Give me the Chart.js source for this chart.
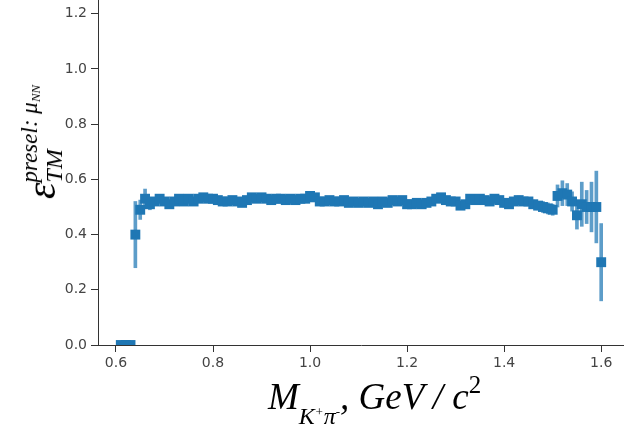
<!DOCTYPE html>
<html>
<head>
<meta charset="utf-8">
<script src="https://cdn.jsdelivr.net/npm/chart.js@4.4.1/dist/chart.umd.min.js"></script>
<style>
    body { margin: 0; background: #fff; }
    .wrap { position: relative; width: 624px; height: 427px; overflow: hidden; }
    canvas { position: absolute; left: 0; top: 0; }
    .mathTitle {
        position: absolute;
        font-family: "Liberation Serif", "DejaVu Serif", serif;
        font-style: italic;
        color: #000;
        white-space: nowrap;
        line-height: 1;
    }
    #xTitle { left: 268px; top: 372px; font-size: 37px; }
    #xTitle .lo { font-size: 24px; position: relative; top: 15px; }
    #xTitle .lo sup { font-size: 13px; vertical-align: 8px; }
    #xTitle .hi { font-size: 25px; vertical-align: 16px; font-style: normal; }
    #yTitle { left: 42px; top: 142px; font-size: 42px; transform: translate(-50%, -50%) rotate(-90deg); }
    #yTitle .stack { display: inline-block; vertical-align: -7px; margin-left: 0px; }
    #yTitle .stack span { display: block; }
    #yTitle .up { font-size: 23px; }
    #yTitle .up sub { font-size: 13px; vertical-align: -3px; }
    #yTitle .dn { font-size: 24px; }
</style>
</head>
<body>
<div class="wrap">
    <canvas id="effChart" width="624" height="427"></canvas>
    <div class="mathTitle" id="yTitle">ε<span class="stack"><span class="up">presel: μ<sub>NN</sub></span><span class="dn">TM</span></span></div>
    <div class="mathTitle" id="xTitle">M<span class="lo">K<sup>+</sup>π<sup>-</sup></span>, GeV / c<span class="hi">2</span></div>
</div>
<script>
// Bin layout of the mass histogram (GeV/c^2)
const binStart = 0.605;
const binWidth = 0.01;

// Efficiency per mass bin
const efficiency = [
    0, 0, 0, 0.40, 0.49, 0.53, 0.51, 0.52, 0.53, 0.52,
    0.51, 0.52, 0.53, 0.52, 0.53, 0.52, 0.53, 0.535, 0.53, 0.53,
    0.525, 0.52, 0.52, 0.525, 0.52, 0.515, 0.525, 0.535, 0.53, 0.535,
    0.53, 0.525, 0.53, 0.53, 0.525, 0.53, 0.525, 0.53, 0.53, 0.54,
    0.535, 0.52, 0.52, 0.525, 0.52, 0.52, 0.525, 0.515, 0.52, 0.515,
    0.52, 0.515, 0.52, 0.51, 0.52, 0.515, 0.525, 0.52, 0.525, 0.51,
    0.51, 0.515, 0.51, 0.515, 0.52, 0.53, 0.535, 0.525, 0.52, 0.52,
    0.505, 0.51, 0.53, 0.525, 0.53, 0.525, 0.52, 0.53, 0.525, 0.515,
    0.51, 0.52, 0.525, 0.52, 0.52, 0.51, 0.505, 0.50, 0.495, 0.49,
    0.54, 0.55, 0.545, 0.52, 0.47, 0.51, 0.50, 0.50, 0.50, 0.30
];

// Statistical uncertainty per bin
const efficiencyErr = [
    0, 0, 0, 0.12, 0.035, 0.035, 0.02, 0.015, 0.012, 0.012,
    0.012, 0.012, 0.012, 0.012, 0.012, 0.012, 0.012, 0.012, 0.012, 0.012,
    0.012, 0.012, 0.012, 0.012, 0.012, 0.012, 0.012, 0.012, 0.012, 0.012,
    0.012, 0.012, 0.012, 0.012, 0.012, 0.012, 0.012, 0.012, 0.012, 0.012,
    0.012, 0.012, 0.012, 0.012, 0.012, 0.012, 0.012, 0.012, 0.012, 0.012,
    0.012, 0.012, 0.012, 0.012, 0.012, 0.012, 0.012, 0.012, 0.012, 0.012,
    0.012, 0.012, 0.012, 0.012, 0.012, 0.012, 0.012, 0.012, 0.012, 0.012,
    0.012, 0.012, 0.012, 0.012, 0.012, 0.012, 0.012, 0.012, 0.012, 0.015,
    0.015, 0.015, 0.015, 0.015, 0.015, 0.015, 0.015, 0.02, 0.02, 0.02,
    0.04, 0.045, 0.04, 0.035, 0.05, 0.08, 0.06, 0.09, 0.13, 0.14
];

// Axis ticks
const xTicks = [0.6, 0.8, 1.0, 1.2, 1.4, 1.6];
const yTicks = [0.0, 0.2, 0.4, 0.6, 0.8, 1.0, 1.2];

const markerColor = '#1f77b4';
const errorColor = 'rgba(31, 119, 180, 0.72)';
const tickFont = { family: 'DejaVu Sans', size: 14 };

// Function to build the marker points
function buildPoints() {
    return efficiency.map((v, i) => ({ x: binStart + binWidth * (i + 0.5), y: v }));
}

// Function to build the error bars as floating bars
function buildErrorBars() {
    return efficiency.map((v, i) => ({
        x: binStart + binWidth * (i + 0.5),
        y: [v - efficiencyErr[i], v + efficiencyErr[i]]
    }));
}

// Function to pin the axis size and drop the label padding
function fixSize(prop, size) {
    return function (scale) {
        scale[prop] = size;
        scale.paddingTop = 0;
        scale.paddingBottom = 0;
        scale.paddingLeft = 0;
        scale.paddingRight = 0;
    };
}

// Function to create the chart
function createChart() {
    const ctx = document.getElementById('effChart').getContext('2d');

    new Chart(ctx, {
        type: 'scatter',
        data: {
            datasets: [
                {
                    type: 'bar',
                    data: buildErrorBars(),
                    backgroundColor: errorColor,
                    barThickness: 3,
                    borderWidth: 0,
                    order: 2
                },
                {
                    type: 'scatter',
                    data: buildPoints(),
                    pointStyle: 'rect',
                    pointRadius: 7,
                    backgroundColor: markerColor,
                    borderWidth: 0,
                    order: 1
                }
            ]
        },
        options: {
            responsive: false,
            animation: false,
            layout: { padding: 0, autoPadding: false },
            plugins: {
                legend: { display: false },
                tooltip: { enabled: false }
            },
            scales: {
                x: {
                    type: 'linear',
                    min: 0.563,
                    max: 1.647,
                    offset: false,
                    afterBuildTicks: (scale) => { scale.ticks = xTicks.map(v => ({ value: v })); },
                    afterFit: fixSize('height', 82),
                    grid: { offset: false, drawOnChartArea: false, tickLength: 7, tickColor: '#333', tickWidth: 1 },
                    border: { color: '#333', width: 1 },
                    ticks: { font: tickFont, color: '#444', padding: 3, callback: v => v.toFixed(1) }
                },
                y: {
                    min: 0,
                    max: 1.25,
                    afterBuildTicks: (scale) => { scale.ticks = yTicks.map(v => ({ value: v })); },
                    afterFit: fixSize('width', 98),
                    grid: { drawOnChartArea: false, tickLength: 7, tickColor: '#333', tickWidth: 1 },
                    border: { color: '#333', width: 1 },
                    ticks: { font: tickFont, color: '#444', padding: 4, callback: v => v.toFixed(1) }
                }
            }
        }
    });
}

createChart();
</script>
</body>
</html>
